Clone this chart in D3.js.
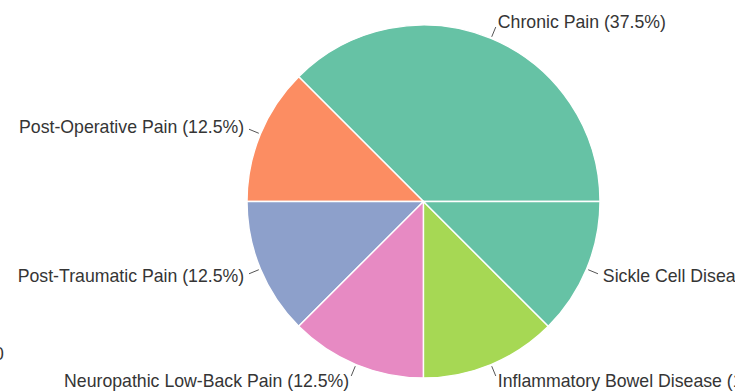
<!DOCTYPE html>
<html>
<head>
<meta charset="utf-8">
<script src="https://cdn.jsdelivr.net/npm/d3@7"></script>
<style>
  html, body { margin: 0; padding: 0; background: #fff; }
  svg { display: block; }
  text { font-family: "Liberation Sans", Arial, sans-serif; }
</style>
</head>
<body>
<svg id="chart" width="735" height="391"></svg>
<script>
// Pain conditions and their share of the total (percent)
const categories = [
  "Chronic Pain",
  "Post-Operative Pain",
  "Post-Traumatic Pain",
  "Neuropathic Low-Back Pain",
  "Inflammatory Bowel Disease",
  "Sickle Cell Disease"
];
const shares = [37.5, 12.5, 12.5, 12.5, 12.5, 12.5];
const palette = ["#66c2a5", "#fc8d62", "#8da0cb", "#e78ac3", "#a6d854"];
const sideTick = ["0"];

const width = 735, height = 391;
const cx = 423.5, cy = 201.5, radius = 176.5;
const fontSize = 17.7;

const svg = d3.select("#chart");
const g = svg.append("g").attr("transform", `translate(${cx},${cy})`);

const data = categories.map((c, i) => ({ name: c, value: shares[i], color: palette[i % palette.length] }));

// Wedges start at 3 o'clock and run counter-clockwise
const pie = d3.pie()
  .value(d => d.value)
  .sort(null)
  .startAngle(Math.PI / 2)
  .endAngle(Math.PI / 2 - 2 * Math.PI);

const arcs = pie(data);
const arc = d3.arc().innerRadius(0).outerRadius(radius);

g.selectAll("path.wedge")
  .data(arcs)
  .join("path")
  .attr("class", "wedge")
  .attr("d", arc)
  .attr("fill", d => d.data.color)
  .attr("stroke", "#ffffff")
  .attr("stroke-width", 1.4)
  .attr("stroke-linejoin", "round");

const mid = d => (d.startAngle + d.endAngle) / 2;
const polar = (a, r) => [Math.sin(a) * r, -Math.cos(a) * r];

// Short leader ticks just outside the rim
g.selectAll("line.leader")
  .data(arcs)
  .join("line")
  .attr("class", "leader")
  .attr("x1", d => polar(mid(d), radius * 1.01)[0])
  .attr("y1", d => polar(mid(d), radius * 1.01)[1])
  .attr("x2", d => polar(mid(d), radius * 1.07)[0])
  .attr("y2", d => polar(mid(d), radius * 1.07)[1])
  .attr("stroke", "#555")
  .attr("stroke-width", 1);

const fmt = d3.format(".1f");
g.selectAll("text.label")
  .data(arcs)
  .join("text")
  .attr("class", "label")
  .attr("x", d => polar(mid(d), radius * 1.1)[0])
  .attr("y", d => polar(mid(d), radius * 1.1)[1])
  .attr("text-anchor", d => polar(mid(d), 1)[0] >= 0 ? "start" : "end")
  .attr("dominant-baseline", "central")
  .attr("font-size", fontSize)
  .attr("fill", "#353535")
  .text(d => `${d.data.name} (${fmt(d.data.value)}%)`);

// Tick label peeking in at the left edge
svg.selectAll("text.side")
  .data(sideTick)
  .join("text")
  .attr("class", "side")
  .attr("x", -6)
  .attr("y", 354)
  .attr("dominant-baseline", "central")
  .attr("font-size", fontSize)
  .attr("fill", "#353535")
  .text(d => d);
</script>
</body>
</html>
